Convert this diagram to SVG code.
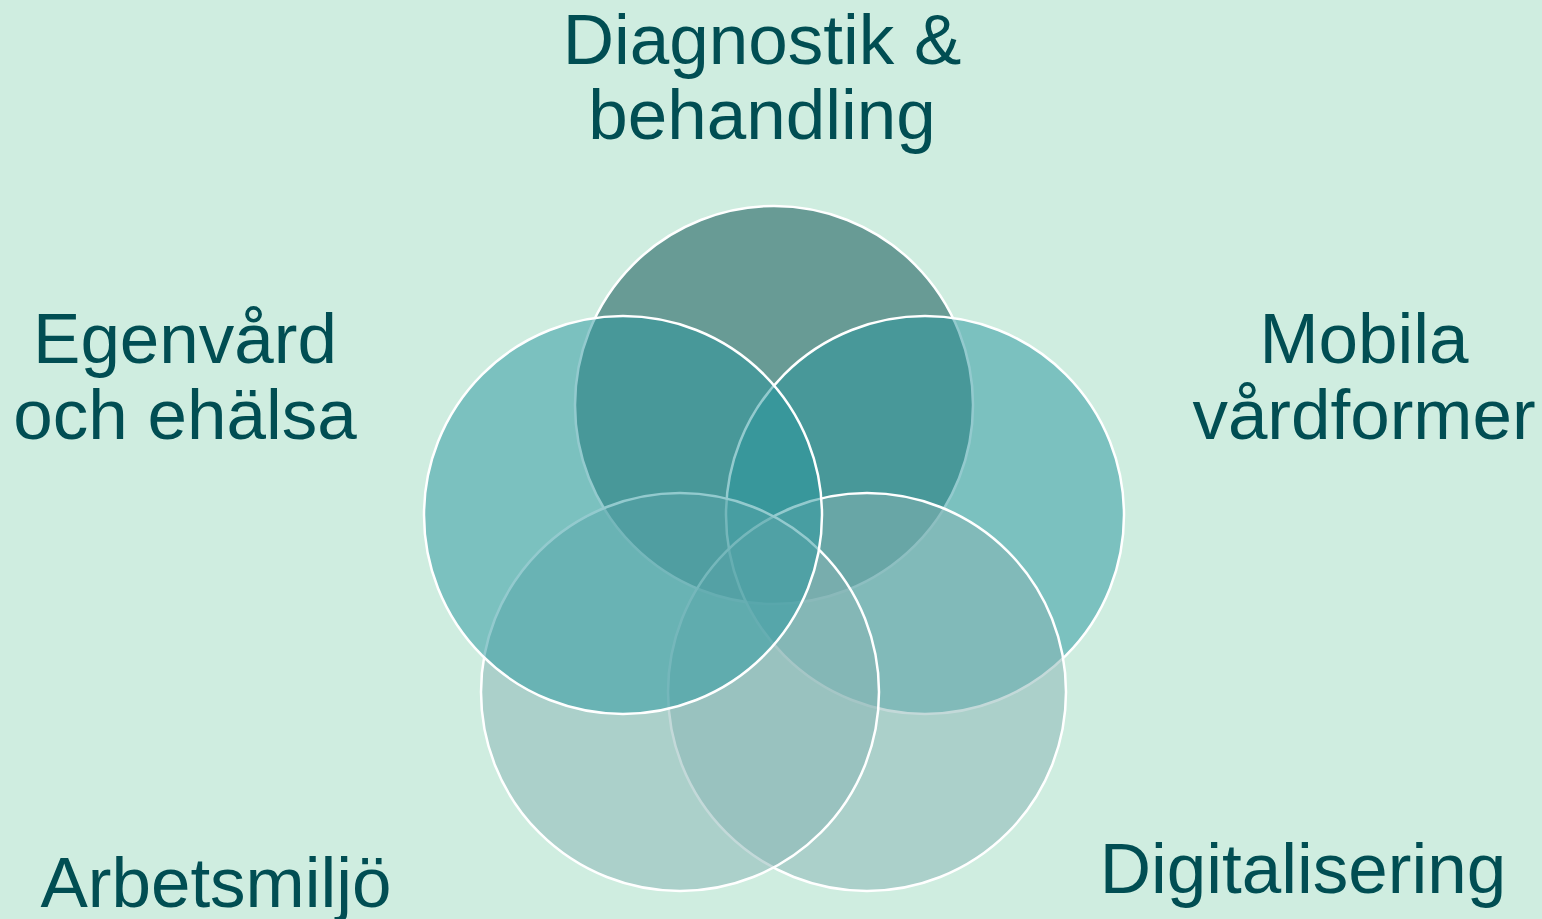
<svg xmlns="http://www.w3.org/2000/svg" width="1542" height="919" viewBox="0 0 1542 919">
  <style>
    .ring { stroke: #ffffff; stroke-width: 2.5; }
    .deep { fill: #3c7875; fill-opacity: 0.7; }
    .teal { fill: #28969e; fill-opacity: 0.5; }
    .mist { fill: #87b3b4; fill-opacity: 0.5; }
    .label { font-family: "Liberation Sans", Arial, sans-serif; font-size: 71px; fill: #014e53; text-anchor: middle; }
  </style>
  <rect x="0" y="0" width="1542" height="919" fill="#cfede0"/>

  <!-- overlapping focus areas, drawn clockwise from the top -->
  <g id="circle-diagnostik"><circle class="ring deep" cx="774" cy="405" r="199"/></g>
  <g id="circle-mobila"><circle class="ring teal" cx="925" cy="515" r="199"/></g>
  <g id="circle-digitalisering"><circle class="ring mist" cx="867" cy="692" r="199"/></g>
  <g id="circle-arbetsmiljo"><circle class="ring mist" cx="680" cy="692" r="199"/></g>
  <g id="circle-egenvard"><circle class="ring teal" cx="623" cy="515" r="199"/></g>

  <g id="connectors"></g>

  <!-- labels -->
  <g id="label-diagnostik">
    <text class="label" x="762" y="64">Diagnostik &amp;</text>
    <text class="label" x="762" y="139">behandling</text>
  </g>
  <g id="label-egenvard">
    <text class="label" x="185" y="363">Egenvård</text>
    <text class="label" x="185" y="439">och ehälsa</text>
  </g>
  <g id="label-mobila">
    <text class="label" x="1364" y="363">Mobila</text>
    <text class="label" x="1364" y="439">vårdformer</text>
  </g>
  <g id="label-arbetsmiljo">
    <text class="label" x="216" y="907">Arbetsmiljö</text>
  </g>
  <g id="label-digitalisering">
    <text class="label" x="1303" y="893">Digitalisering</text>
  </g>
</svg>
